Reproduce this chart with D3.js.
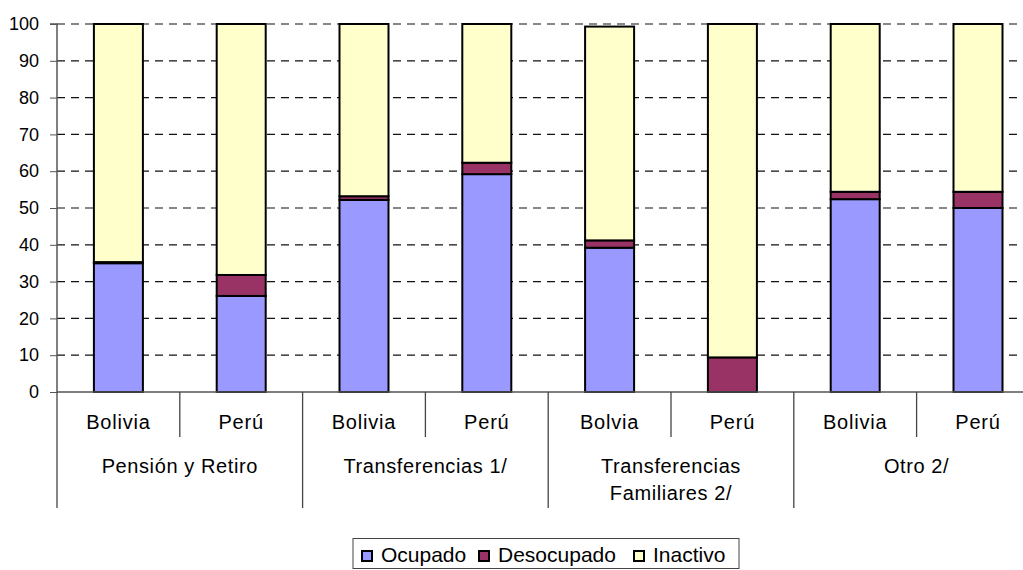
<!DOCTYPE html>
<html><head><meta charset="utf-8">
<script src="https://cdn.jsdelivr.net/npm/d3@7"></script>
<style>body{margin:0;background:#fff}svg{display:block;font-family:"Liberation Sans",Arial,sans-serif}</style>
</head><body><svg id="c" width="1023" height="570"></svg>
<script>
const groups = ["Pensión y Retiro", "Transferencias 1/", "Transferencias|Familiares 2/", "Otro 2/"];
const countries = ["Bolivia", "Perú", "Bolivia", "Perú", "Bolvia", "Perú", "Bolivia", "Perú"];
const seriesNames = ["Ocupado", "Desocupado", "Inactivo"];
const colors = ["#9999FF", "#993366", "#FFFFCC"];
const ocupado    = [35.0, 26.1, 52.2, 59.2, 39.2, 0.0, 52.4, 50.0];
const desocupado = [0.3, 5.7, 1.0, 3.1, 2.0, 9.4, 2.0, 4.4];
const inactivo   = [64.7, 68.2, 46.8, 37.7, 58.1, 90.6, 45.6, 45.6];
const yTicks = [0,10,20,30,40,50,60,70,80,90,100];

const svg = d3.select("#c");
const x0 = 57, slotW = 122.8;
const x = d3.scaleBand().domain(d3.range(8)).range([x0, x0 + 8*slotW]).paddingInner(0).paddingOuter(0);
const y = d3.scaleLinear().domain([0,100]).range([392, 24]);
const barW = 49;

// gridlines
svg.append("g").selectAll("line").data(yTicks.filter(d=>d>0)).join("line")
  .attr("x1", x0).attr("x2", 1023).attr("y1", d=>y(d)).attr("y2", d=>y(d))
  .attr("stroke", "#111").attr("stroke-width", 1.2).attr("stroke-dasharray", "8,6");

// y axis
const yAxis = d3.axisLeft(y).tickValues(yTicks).tickSize(7).tickPadding(11);
const ga = svg.append("g").attr("transform", `translate(${x0},0)`).call(yAxis);
ga.select(".domain").attr("stroke", "#555").attr("stroke-width", 1.5).attr("d", `M-7,${y(100)}H0V${y(0)}`);
ga.selectAll(".tick line").attr("stroke", "#555");
ga.selectAll(".tick text").attr("font-size", 18).attr("fill", "#000").attr("font-family", "Liberation Sans, Arial, sans-serif");

// stacked bars
const rows = countries.map((c,i)=>({i, Ocupado: ocupado[i], Desocupado: desocupado[i], Inactivo: inactivo[i]}));
const stack = d3.stack().keys(seriesNames)(rows);
svg.append("g").selectAll("g").data(stack).join("g").attr("fill", (d,i)=>colors[i])
  .selectAll("rect").data(d=>d).join("rect")
  .attr("x", d=>x(d.data.i) + x.bandwidth()/2 - barW/2)
  .attr("width", barW)
  .attr("y", d=>y(d[1])).attr("height", d=>Math.max(0, y(d[0]) - y(d[1])))
  .attr("stroke", "#000").attr("stroke-width", 2)
  .attr("display", d=>(d[1]-d[0])>0 ? null : "none");

// x axis line
svg.append("line").attr("x1", x0).attr("x2", 1023).attr("y1", y(0)).attr("y2", y(0))
  .attr("stroke", "#555").attr("stroke-width", 1.5);

// separators
const sep = svg.append("g").attr("stroke", "#444").attr("stroke-width", 1.3);
d3.range(9).forEach(k=>{
  const xx = x0 + k*slotW;
  const long = k % 2 === 0;
  sep.append("line").attr("x1", xx).attr("x2", xx).attr("y1", y(0)).attr("y2", long ? 508 : 437);
});

// country labels
svg.append("g").selectAll("text").data(countries).join("text")
  .attr("x", (d,i)=>x(i)+x.bandwidth()/2).attr("y", 429)
  .attr("text-anchor", "middle").attr("font-size", 20).attr("letter-spacing", 0.8).text(d=>d);

// group labels
const gl = svg.append("g").selectAll("text").data(groups).join("text")
  .attr("x", (d,i)=>x0 + (2*i+1)*slotW).attr("y", 473)
  .attr("text-anchor", "middle").attr("font-size", 20).attr("letter-spacing", 0.6);
gl.each(function(d){
  const t = d3.select(this);
  d.split("|").forEach((s,j)=>{
    t.append("tspan").attr("x", t.attr("x")).attr("dy", j===0 ? 0 : 27).text(s);
  });
});

// legend
const lg = svg.append("g");
lg.append("rect").attr("x", 353).attr("y", 538.5).attr("width", 386).attr("height", 30)
  .attr("fill", "#fff").attr("stroke", "#444").attr("stroke-width", 1);
const legX = [362, 479, 634];
seriesNames.forEach((s,i)=>{
  lg.append("rect").attr("x", legX[i]).attr("y", 551).attr("width", 10).attr("height", 10)
    .attr("fill", colors[i]).attr("stroke", "#000").attr("stroke-width", 2);
  lg.append("text").attr("x", legX[i] + 19).attr("y", 562).attr("font-size", 21).text(s);
});
</script></body></html>
